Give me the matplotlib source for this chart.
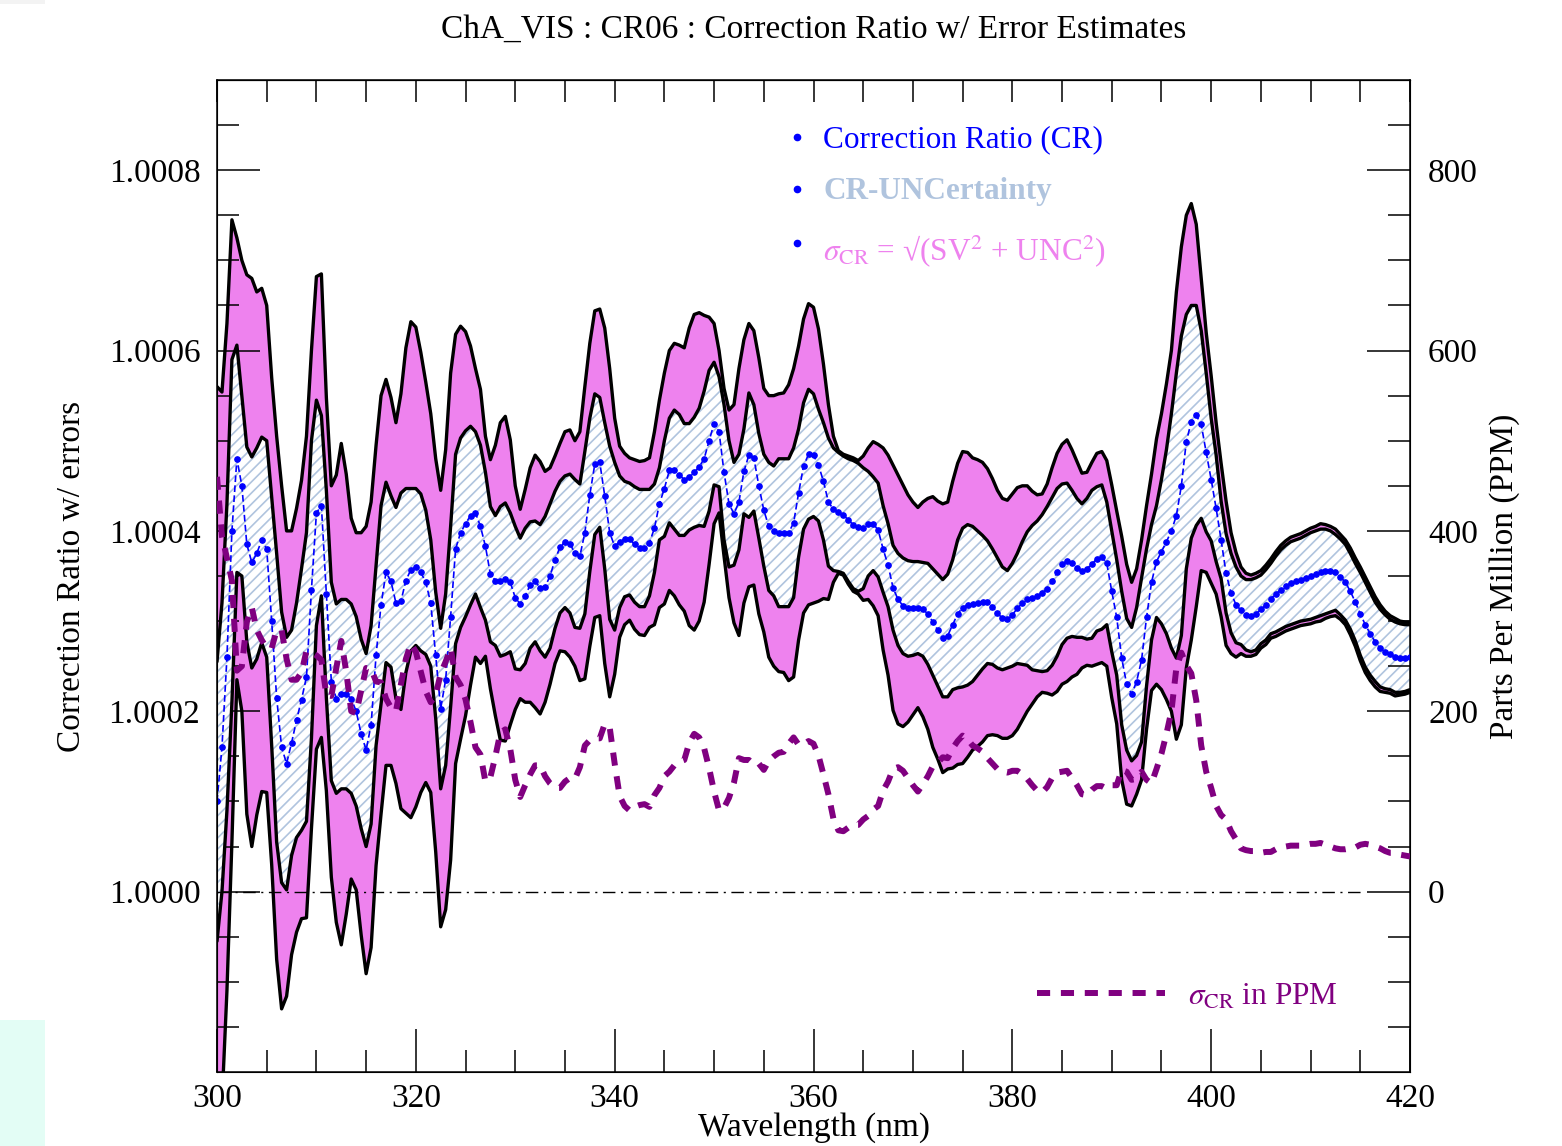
import numpy as np
import matplotlib
matplotlib.use("Agg")
import matplotlib.pyplot as plt
from matplotlib.patches import Rectangle
from matplotlib.ticker import MultipleLocator, FixedLocator, FormatStrFormatter

plt.rcParams['font.family'] = ['Liberation Serif', 'DejaVu Serif']
plt.rcParams['mathtext.fontset'] = 'stix'
plt.rcParams['hatch.linewidth'] = 1.2

# ---------------- data (in parts per million) ----------------
WL_START, WL_STOP, WL_STEP = 300.0, 420.0, 0.5
WAVELENGTH_NM = np.arange(WL_START, WL_STOP + WL_STEP / 2, WL_STEP)

# correction ratio, (CR - 1) * 1e6
CR_PPM = [
    100, 160, 260, 400, 480, 450, 385, 365, 375, 390, 380, 300, 215, 160, 142, 165, 190, 213, 238, 335,
    420, 428, 330, 233, 214, 219, 219, 214, 200, 175, 157, 185, 262, 318, 354, 344, 320, 322, 345, 357,
    360, 354, 343, 320, 262, 203, 235, 305, 380, 398, 408, 417, 420, 405, 383, 352, 345, 344, 347, 343,
    326,
    319, 328, 340, 344, 337, 338, 350, 368, 382, 388, 386, 375, 372, 398, 440, 474, 476, 439, 398, 383,
    388, 391, 391, 385, 381, 381, 387, 403, 430, 447, 467, 468, 462, 457, 460, 465, 471, 480, 500, 519,
    510, 465, 430, 419, 432, 466, 484, 481, 450, 423, 405, 400, 398, 398, 398, 409, 442, 472, 485, 484,
    473, 455, 432, 424, 421, 418, 412, 407, 404, 403, 408, 408, 401,
    380, 362, 337, 324, 317, 314, 314, 315, 313, 308, 299, 290, 281, 284, 296, 308, 315, 318, 319, 320,
    321, 321, 316, 309, 303, 302, 307, 314, 320, 325, 326, 328, 331, 336, 344, 354, 363, 367, 364, 359,
    356, 358, 363, 369, 371,
    364, 333, 304, 259, 230, 219, 233, 257, 304, 343, 366, 377, 388, 400, 417, 450, 499, 521, 528, 518,
    487, 457, 425, 390, 353, 331, 318, 312, 307, 306, 308, 313, 318, 325, 330, 335, 339, 342, 344, 346,
    348, 350, 352, 354, 355, 355, 354, 349, 343, 333, 321, 308, 296, 286, 277, 270, 266, 263, 260, 259,
    259, 260,
]

# upper edge of the CR-UNCertainty band, CR + UNC
CR_PLUS_UNC_PPM = [
    255, 320, 430, 590, 606, 550, 493, 482, 492, 504, 500, 438, 375, 310, 282, 290, 320, 358, 398, 500,
    545, 528, 445, 343, 319, 324, 324, 319, 305, 280, 264, 295, 362, 428, 454, 439, 426, 442, 447, 447,
    447, 441, 423, 390, 332, 292, 330, 405, 485, 503, 511, 516, 510, 495, 465, 427, 417, 427, 431, 420,
    405,
    392, 403, 410, 411, 407, 416, 430, 444, 455, 461, 463, 457, 452, 488, 525, 552, 548, 520, 494, 476,
    461, 455, 453, 449, 446, 446, 446, 452, 470, 500, 525, 534, 529, 519, 519, 526, 536, 555, 578, 587,
    571, 540, 500, 476, 485, 513, 553, 540, 508, 485, 476, 472, 480, 480, 480, 492, 513, 542, 557, 552,
    535, 520, 503, 492, 487, 483, 480, 478, 475, 470, 466, 460, 453,
    428, 408, 384, 375, 370, 367, 366, 366, 365, 364, 358, 352, 346, 352, 368, 390, 403, 407, 405, 400,
    395, 389, 380, 370, 360, 356, 364, 375, 388, 399, 406, 411, 418, 427, 437, 447, 452, 453, 445, 436,
    430, 436, 445, 449, 451,
    432, 400, 368, 333, 303, 293, 315, 348, 380, 407, 428, 457, 490, 530, 575, 616, 640, 650, 650, 622,
    575, 525, 484, 433, 397, 375, 360, 350, 346, 346, 348, 351, 357, 364, 372, 379, 384, 388, 390, 392,
    395, 398, 400, 402, 402, 400, 396, 391, 385, 375, 364, 354, 343, 332, 321, 313, 307, 302, 299, 297,
    296, 296,
]

# upper edge of the total error band, CR + sigma_CR
CR_PLUS_SIGMA_PPM = [
    560, 554, 630, 745, 725, 700, 684, 680, 665, 669, 650, 570, 505, 450, 400, 400, 425, 456, 505, 600,
    682, 685, 548, 450, 462, 497, 463, 414, 398, 398, 405, 432, 495, 550, 568, 548, 520, 552, 603, 632,
    626, 598, 565, 530, 480, 445, 490, 575, 618, 627, 621, 605, 580, 557, 505, 479, 495, 520, 527, 501,
    450,
    424, 446, 470, 484, 477, 466, 470, 483, 497, 510, 512, 500, 510, 560, 608, 644, 646, 625, 580, 525,
    494, 486, 481, 479, 477, 478, 481, 510, 545, 575, 600, 608, 606, 603, 625, 640, 642, 639, 637, 630,
    600, 558, 534, 540, 580, 612, 630, 622, 592, 558, 550, 550, 552, 553, 562, 580, 605, 635, 652, 648,
    624, 585, 540, 505, 489, 485, 483, 481, 478, 483, 492, 499, 496,
    492, 484, 473, 462, 451, 440, 432, 426, 432, 436, 438, 433, 430, 432, 455, 475, 488, 487, 481, 479,
    476, 469, 458, 445, 436, 434, 441, 448, 450, 450, 444, 440, 441, 452, 470, 486, 496, 501, 490, 477,
    464, 465, 476, 486, 488,
    478, 451, 422, 394, 363, 343, 358, 390, 428, 463, 502, 530, 563, 600, 665, 715, 750, 763, 740, 680,
    620, 572, 520, 475, 433, 398, 376, 360, 353, 351, 353, 356, 362, 369, 377, 384, 389, 393, 395, 397,
    400, 403, 405, 408, 407, 405, 402, 396, 390, 381, 370, 360, 349, 338, 327, 318, 311, 306, 303, 300,
    299, 299,
]

TITLE = "ChA_VIS : CR06 : Correction Ratio w/ Error Estimates"
XLABEL = "Wavelength (nm)"
YLABEL_LEFT = "Correction Ratio w/ errors"
YLABEL_RIGHT = "Parts Per Million (PPM)"
LEFT_TICKS = [1.0000, 1.0002, 1.0004, 1.0006, 1.0008]
RIGHT_TICKS = [0, 200, 400, 600, 800]

# ---------------- derived quantities ----------------
wl = WAVELENGTH_NM
cr = np.asarray(CR_PPM, float)
unc = np.asarray(CR_PLUS_UNC_PPM, float) - cr
sigma = np.maximum(np.asarray(CR_PLUS_SIGMA_PPM, float) - cr, unc)


def ratio(ppm):
    return 1.0 + ppm * 1e-6


# ---------------- figure ----------------
W, H = 1562, 1146
fig = plt.figure(figsize=(W / 100, H / 100), dpi=100)
fig.patches.append(Rectangle((0, 0), 45 / W, 126 / H, transform=fig.transFigure,
                             facecolor='#e3fdf5', edgecolor='none', zorder=0))
fig.patches.append(Rectangle((0, 1 - 4 / H), 45 / W, 4 / H, transform=fig.transFigure,
                             facecolor='#f3f3f3', edgecolor='none', zorder=0))

L, R, T, B = 217, 1410, 80, 1072
ax = fig.add_axes([L / W, 1 - B / H, (R - L) / W, (B - T) / H])

ax.fill_between(wl, ratio(cr - sigma), ratio(cr + sigma), facecolor='violet',
                edgecolor='none', linewidth=0, zorder=1)
ax.fill_between(wl, ratio(cr - unc), ratio(cr + unc), facecolor='white',
                edgecolor='lightsteelblue', hatch='///', linewidth=0, zorder=2)

for edge in (cr + sigma, cr - sigma, cr + unc, cr - unc):
    ax.plot(wl, ratio(edge), color='black', lw=2.4, zorder=3,
            solid_joinstyle='round', solid_capstyle='round')

ax.axhline(1.0, xmin=0.0, xmax=0.96, color='black', lw=1.0,
           ls=(0, (9, 4, 1.5, 4)), zorder=3.5)

ax.plot(wl, ratio(cr), color='blue', lw=1.2, ls=(0, (4, 2)), marker='o',
        ms=3.8, mec='blue', mfc='blue', zorder=4)

ax.set_xlim(WL_START, WL_STOP)
ax.set_ylim(ratio(-200), ratio(900))

ax.xaxis.set_major_locator(MultipleLocator(20))
ax.xaxis.set_minor_locator(MultipleLocator(5))
ax.yaxis.set_major_locator(FixedLocator(LEFT_TICKS))
ax.yaxis.set_major_formatter(FormatStrFormatter('%.4f'))
ax.yaxis.set_minor_locator(FixedLocator(ratio(np.arange(-150, 900, 50))))

ax.tick_params(axis='both', which='major', direction='in', length=31, width=1.1,
               labelsize=24, top=False, right=False)
ax.tick_params(axis='both', which='minor', direction='in', length=15.5, width=1.1,
               top=False, right=False)
ax.tick_params(axis='x', which='major', pad=8)
ax.tick_params(axis='y', which='major', pad=12)
for sp in ax.spines.values():
    sp.set_linewidth(1.1)

# top ticks
sec = ax.secondary_xaxis('top')
sec.xaxis.set_major_locator(MultipleLocator(5))
sec.tick_params(axis='x', which='major', direction='in', length=15.5, width=1.1,
                labeltop=False)
sec.xaxis.set_minor_locator(FixedLocator([]))

# right axis in PPM with sigma curve
ax2 = ax.twinx()
ax2.set_ylim(-200, 900)
ax2.yaxis.set_major_locator(FixedLocator(RIGHT_TICKS))
ax2.yaxis.set_minor_locator(FixedLocator(np.arange(-150, 900, 50)))
ax2.tick_params(axis='y', which='major', direction='in', length=31, width=1.1,
                labelsize=24, pad=13)
ax2.tick_params(axis='y', which='minor', direction='in', length=15.5, width=1.1)
ax2.plot(wl, sigma, color='purple', lw=4.3, ls=(0, (2.2, 1.8)),
         dash_capstyle='butt', zorder=5)

# legend entries (top)
FS = 22.5
ax2.plot([0.486], [0.9425], transform=ax.transAxes, marker='o', ms=4.5,
         color='blue', clip_on=False)
ax2.text(0.508, 0.940, 'Correction Ratio (CR)', transform=ax.transAxes,
         color='blue', fontsize=FS, va='center', ha='left')
ax2.plot([0.486], [0.890], transform=ax.transAxes, marker='o', ms=4.5,
         color='blue', clip_on=False)
ax2.text(0.508, 0.888, 'CR-UNCertainty', transform=ax.transAxes,
         color='lightsteelblue', fontsize=FS, fontweight='bold', va='center', ha='left')
ax2.plot([0.486], [0.8357], transform=ax.transAxes, marker='o', ms=4.5,
         color='blue', clip_on=False)
ax2.text(0.508, 0.828, r'$\sigma_{\mathrm{CR}}$ = √(SV$^2$ + UNC$^2$)', transform=ax.transAxes,
         color='violet', fontsize=FS, va='center', ha='left')

# legend entry (bottom)
ax2.plot([0.687, 0.795], [0.0796, 0.0796], transform=ax.transAxes, color='purple',
         lw=4.3, ls=(0, (2.2, 1.8)), dash_capstyle='butt')
ax2.text(0.814, 0.075, r'$\sigma_{\mathrm{CR}}$ in PPM', transform=ax.transAxes,
         color='purple', fontsize=FS, va='center', ha='left')

# titles and labels
cx = (L + R) / 2 / W
fig.text(cx, 1 - 30 / H, TITLE, ha='center', va='center', fontsize=24)
fig.text(cx, 1 - 1128 / H, XLABEL, ha='center', va='center', fontsize=24)
fig.text(72 / W, 1 - 576 / H, YLABEL_LEFT, ha='center', va='center', rotation=90, fontsize=24)
fig.text(1505 / W, 1 - 576 / H, YLABEL_RIGHT, ha='center', va='center', rotation=90, fontsize=24)

fig.savefig('out.png', dpi=100)
